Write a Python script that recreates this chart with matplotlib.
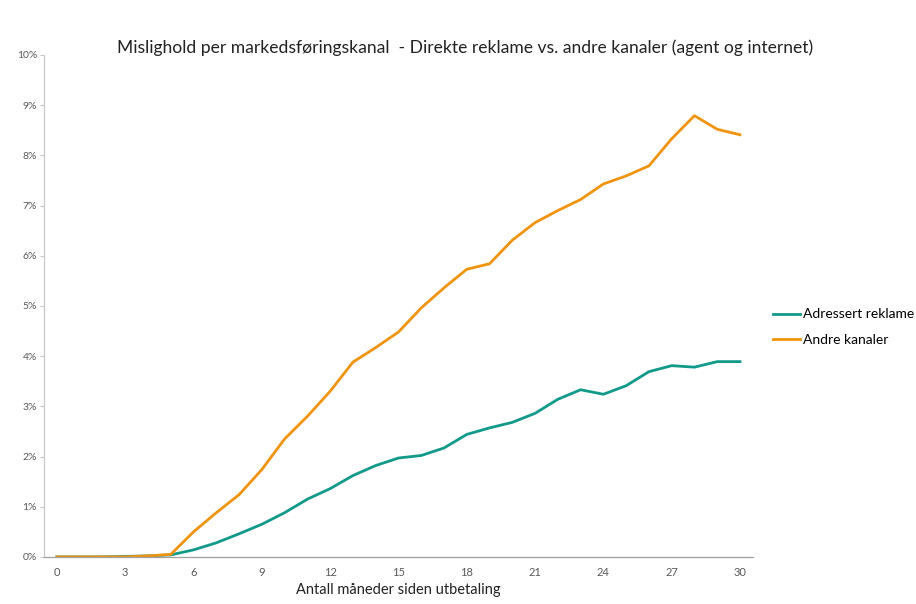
import matplotlib.pyplot as plt
import numpy as np
from matplotlib.ticker import FuncFormatter

plt.rcParams['font.family'] = ['Lato', 'DejaVu Sans']

# months since payout
months = np.arange(0, 31)

# default rate (%) - direct mail
adressert = [0.0, 0.0, 0.0, 0.01, 0.02, 0.04, 0.14, 0.28, 0.46, 0.65, 0.88,
             1.15, 1.36, 1.62, 1.82, 1.97, 2.02, 2.17, 2.44, 2.57, 2.68,
             2.86, 3.14, 3.33, 3.24, 3.41, 3.69, 3.81, 3.78, 3.89, 3.89]

# default rate (%) - other channels
andre = [0.0, 0.0, 0.0, 0.0, 0.02, 0.05, 0.5, 0.88, 1.24, 1.74, 2.35,
         2.80, 3.30, 3.88, 4.17, 4.48, 4.96, 5.36, 5.73, 5.84, 6.31,
         6.66, 6.90, 7.12, 7.43, 7.59, 7.79, 8.33, 8.79, 8.52, 8.41]

fig = plt.figure(figsize=(9.16, 6.04), dpi=100)
ax = fig.add_axes([0.048, 0.078, 0.774, 0.831])

ax.plot(months, adressert, color='#11998a', lw=2.0, label='Adressert reklame')
ax.plot(months, andre, color='#f0940f', lw=2.0, label='Andre kanaler')

ax.set_xlim(-0.57, 30.57)
ax.set_ylim(0, 10)
ax.set_xticks(np.arange(0, 31, 3))
ax.set_yticks(np.arange(0, 11, 1))
ax.yaxis.set_major_formatter(FuncFormatter(lambda v, p: '%d%%' % v))

for s in ['top', 'right']:
    ax.spines[s].set_visible(False)
ax.spines['left'].set_color('#c8c8c8')
ax.spines['bottom'].set_color('#a0a0a0')
ax.spines['left'].set_linewidth(0.9)
ax.spines['bottom'].set_linewidth(0.9)
ax.tick_params(axis='y', length=3, color='#c8c8c8', labelsize=7.5, labelcolor='#595959', pad=2)
ax.tick_params(axis='x', length=0, labelsize=8, labelcolor='#595959', pad=7)

ax.set_xlabel('Antall måneder siden utbetaling', fontsize=10.5, color='#222222', labelpad=4)
fig.text(0.508, 0.912, 'Mislighold per markedsføringskanal  - Direkte reklame vs. andre kanaler (agent og internet)',
         ha='center', fontsize=12.6, color='#222222')

ax.legend(loc='center left', bbox_to_anchor=(1.02, 0.458), frameon=False, fontsize=10,
          handlelength=2.0, handletextpad=0.2, labelspacing=0.95, borderaxespad=0)

fig.savefig('out.png', dpi=100)
